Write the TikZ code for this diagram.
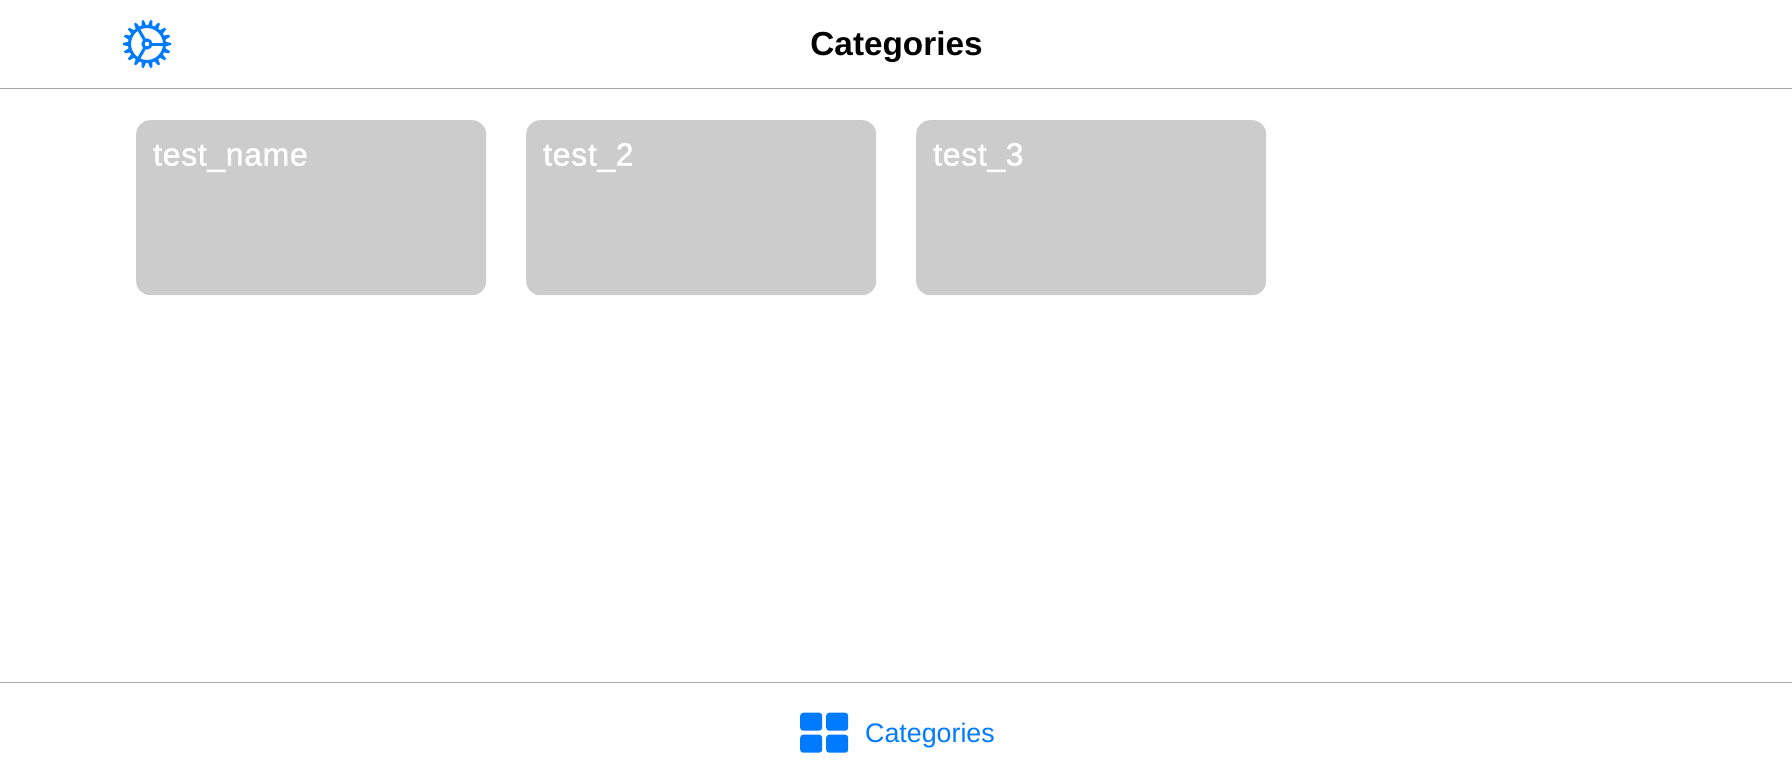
\documentclass[tikz,border=0pt]{standalone}
\usepackage{fontspec}
\setmainfont{Liberation Sans}
\newfontfamily\medfont[FakeBold=1.5,LetterSpace=2]{Liberation Sans}
\usetikzlibrary{positioning}
\definecolor{iosblue}{HTML}{007AFF}
\definecolor{cardgray}{HTML}{CCCCCC}
\definecolor{barline}{HTML}{A8A8A8}
\tikzset{
    card/.style={fill=cardgray, rounded corners=14pt, minimum width=350pt, minimum height=175pt, inner sep=0pt, anchor=north west},
    cardlabel/.style={text=white, font=\medfont\fontsize{32}{32}\selectfont, anchor=base west, inner sep=0pt},
    tabcell/.style={fill=iosblue, rounded corners=3pt, minimum width=22pt, minimum height=18pt, inner sep=0pt, anchor=north west},
    barrule/.style={draw=barline, line width=1.2pt},
    spoke/.style={draw=iosblue, line width=3pt}
}
\begin{document}
\begin{tikzpicture}[x=1pt, y=-1pt]
    \useasboundingbox (0,0) rectangle (1792,780);

    % Top bar
    \node[anchor=base, inner sep=0pt, font=\fontsize{33.3}{33}\selectfont\bfseries] (title) at (896.5,55) {Categories};
    \coordinate (topleft) at (0,88.2);
    \coordinate (topright) at (1792,88.2);
    \draw[barrule] (topleft) -- (topright);

    % Settings gear
    \coordinate (gear) at (147,44);
    \draw[spoke] (gear) circle (17.5);
    \foreach \a in {0,20,...,340}
        \fill[iosblue, shift={(147,44)}, rotate=\a] (18,-2.3) -- (24,-1.1) -- (24,1.1) -- (18,2.3) -- cycle;
    \foreach \a in {0,120,240}
        \draw[spoke] (gear) ++(\a:5) -- ++(\a:12.5);
    \draw[spoke] (gear) circle (4);

    % Cards
    \node[card] (card1) at (136,120) {};
    \node[card] (card2) at (526,120) {};
    \node[card] (card3) at (916,120) {};
    \node[cardlabel] (name1) at (153,165.5) {test\_name};
    \node[cardlabel] (name2) at (543,165.5) {test\_2};
    \node[cardlabel] (name3) at (933,165.5) {test\_3};

    % Tab bar
    \coordinate (botleft) at (0,682.3);
    \coordinate (botright) at (1792,682.3);
    \draw[barrule] (botleft) -- (botright);
    \foreach \x in {800,826}
        \foreach \y in {712.5,734.5}
            \node[tabcell] at (\x,\y) {};
    \node[anchor=base west, inner sep=0pt, text=iosblue, font=\fontsize{26.8}{27}\selectfont] (tab) at (865,742.5) {Categories};
\end{tikzpicture}
\end{document}
